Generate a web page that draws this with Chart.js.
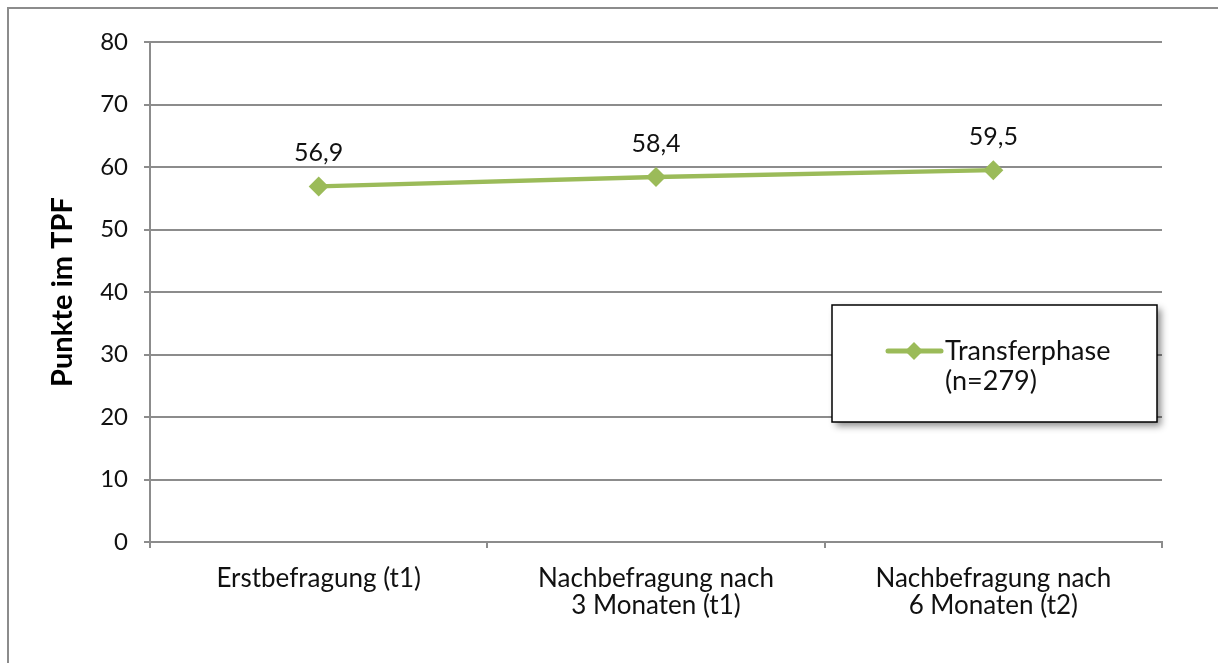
<!DOCTYPE html>
<html>
<head>
<meta charset="utf-8">
<script src="https://cdn.jsdelivr.net/npm/chart.js@4/dist/chart.umd.min.js"></script>
<style>
    html, body { margin: 0; padding: 0; background: #fff; }
    #wrap { position: relative; width: 1218px; height: 663px; overflow: hidden; }
    #frame {
        position: absolute; left: 7px; top: 7px; width: 1300px; height: 700px;
        border-left: 2px solid #8c8c8c; border-top: 2px solid #8c8c8c;
    }
    canvas { position: absolute; left: 0; top: 0; }
</style>
</head>
<body>
<div id="wrap">
    <div id="frame"></div>
    <canvas id="tpfChart" width="1218" height="663"></canvas>
</div>
<script>
// ================================
// DATA
// ================================
const categories = [
    "Erstbefragung (t1)",
    ["Nachbefragung nach", "3 Monaten (t1)"],
    ["Nachbefragung nach", "6 Monaten (t2)"]
];
const transferValues = [56.9, 58.4, 59.5];
const seriesLabel = ["Transferphase", "(n=279)"];
const yTicks = [0, 10, 20, 30, 40, 50, 60, 70, 80];
const yTitle = "Punkte im TPF";

const FONT = "Lato, 'Open Sans', sans-serif";
const GREEN = "#9bbb59";
const GRID = "#8c8c8c";

// ================================
// DATA LABELS ABOVE POINTS
// ================================
const valueLabels = {
    id: "valueLabels",
    afterDatasetsDraw(chart) {
        const ctx = chart.ctx;
        const meta = chart.getDatasetMeta(0);
        ctx.save();
        ctx.font = "25px " + FONT;
        ctx.fillStyle = "#111";
        ctx.textAlign = "center";
        ctx.textBaseline = "middle";
        meta.data.forEach((pt, i) => {
            const txt = transferValues[i].toFixed(1).replace(".", ",");
            ctx.fillText(txt, pt.x, pt.y - 33);
        });
        ctx.restore();
    }
};

// ================================
// LEGEND BOX WITH SHADOW
// ================================
const boxLegend = {
    id: "boxLegend",
    afterDraw(chart) {
        const ctx = chart.ctx;
        const x = 832, y = 305, w = 325, h = 117;
        ctx.save();
        ctx.shadowColor = "rgba(0,0,0,0.45)";
        ctx.shadowBlur = 7;
        ctx.shadowOffsetX = 4;
        ctx.shadowOffsetY = 4;
        ctx.fillStyle = "#fff";
        ctx.fillRect(x, y, w, h);
        ctx.shadowColor = "transparent";
        ctx.strokeStyle = "#000";
        ctx.lineWidth = 1.5;
        ctx.strokeRect(x, y, w, h);

        // sample line + diamond
        const ly = 351;
        ctx.strokeStyle = GREEN;
        ctx.lineWidth = 5;
        ctx.lineCap = "round";
        ctx.beginPath();
        ctx.moveTo(888, ly);
        ctx.lineTo(941, ly);
        ctx.stroke();
        ctx.fillStyle = GREEN;
        ctx.beginPath();
        ctx.moveTo(914, ly - 9);
        ctx.lineTo(923, ly);
        ctx.lineTo(914, ly + 9);
        ctx.lineTo(905, ly);
        ctx.closePath();
        ctx.fill();

        ctx.fillStyle = "#111";
        ctx.font = "27px " + FONT;
        ctx.textAlign = "left";
        ctx.textBaseline = "middle";
        seriesLabel.forEach((line, i) => ctx.fillText(line, 945, ly + i * 30));
        ctx.restore();
    }
};

// ================================
// CREATE CHART
// ================================
new Chart(document.getElementById("tpfChart"), {
    type: "line",
    data: {
        labels: categories,
        datasets: [{
            label: seriesLabel.join(" "),
            data: transferValues,
            borderColor: GREEN,
            backgroundColor: GREEN,
            borderWidth: 4.5,
            pointStyle: "rectRot",
            pointRadius: 10,
            pointHoverRadius: 10,
            pointBorderWidth: 0,
            tension: 0
        }]
    },
    options: {
        responsive: false,
        animation: false,
        events: [],
        layout: { padding: { left: 0, top: 42, right: 56, bottom: 0 } },
        plugins: {
            legend: { display: false },
            tooltip: { enabled: false }
        },
        scales: {
            x: {
                offset: true,
                grid: {
                    offset: true,
                    drawOnChartArea: false,
                    drawTicks: true,
                    tickLength: 6,
                    color: GRID,
                    lineWidth: 2
                },
                border: { color: GRID, width: 2 },
                ticks: {
                    color: "#111",
                    padding: 17,
                    maxRotation: 0,
                    autoSkip: false,
                    font: { family: FONT, size: 26, lineHeight: 1.05 }
                },
                afterFit(scale) { scale.height = 121; }
            },
            y: {
                min: 0,
                max: 80,
                afterBuildTicks(scale) { scale.ticks = yTicks.map(v => ({ value: v })); },
                grid: {
                    color: GRID,
                    lineWidth: 2,
                    drawTicks: true,
                    tickLength: 6
                },
                border: { color: GRID, width: 2 },
                ticks: {
                    color: "#111",
                    padding: 16,
                    font: { family: FONT, size: 24 }
                },
                title: {
                    display: true,
                    text: yTitle,
                    color: "#000",
                    padding: { top: 45 },
                    font: { family: FONT, size: 29, weight: "bold" }
                },
                afterFit(scale) { scale.width = 150; }
            }
        }
    },
    plugins: [valueLabels, boxLegend]
});
</script>
</body>
</html>
